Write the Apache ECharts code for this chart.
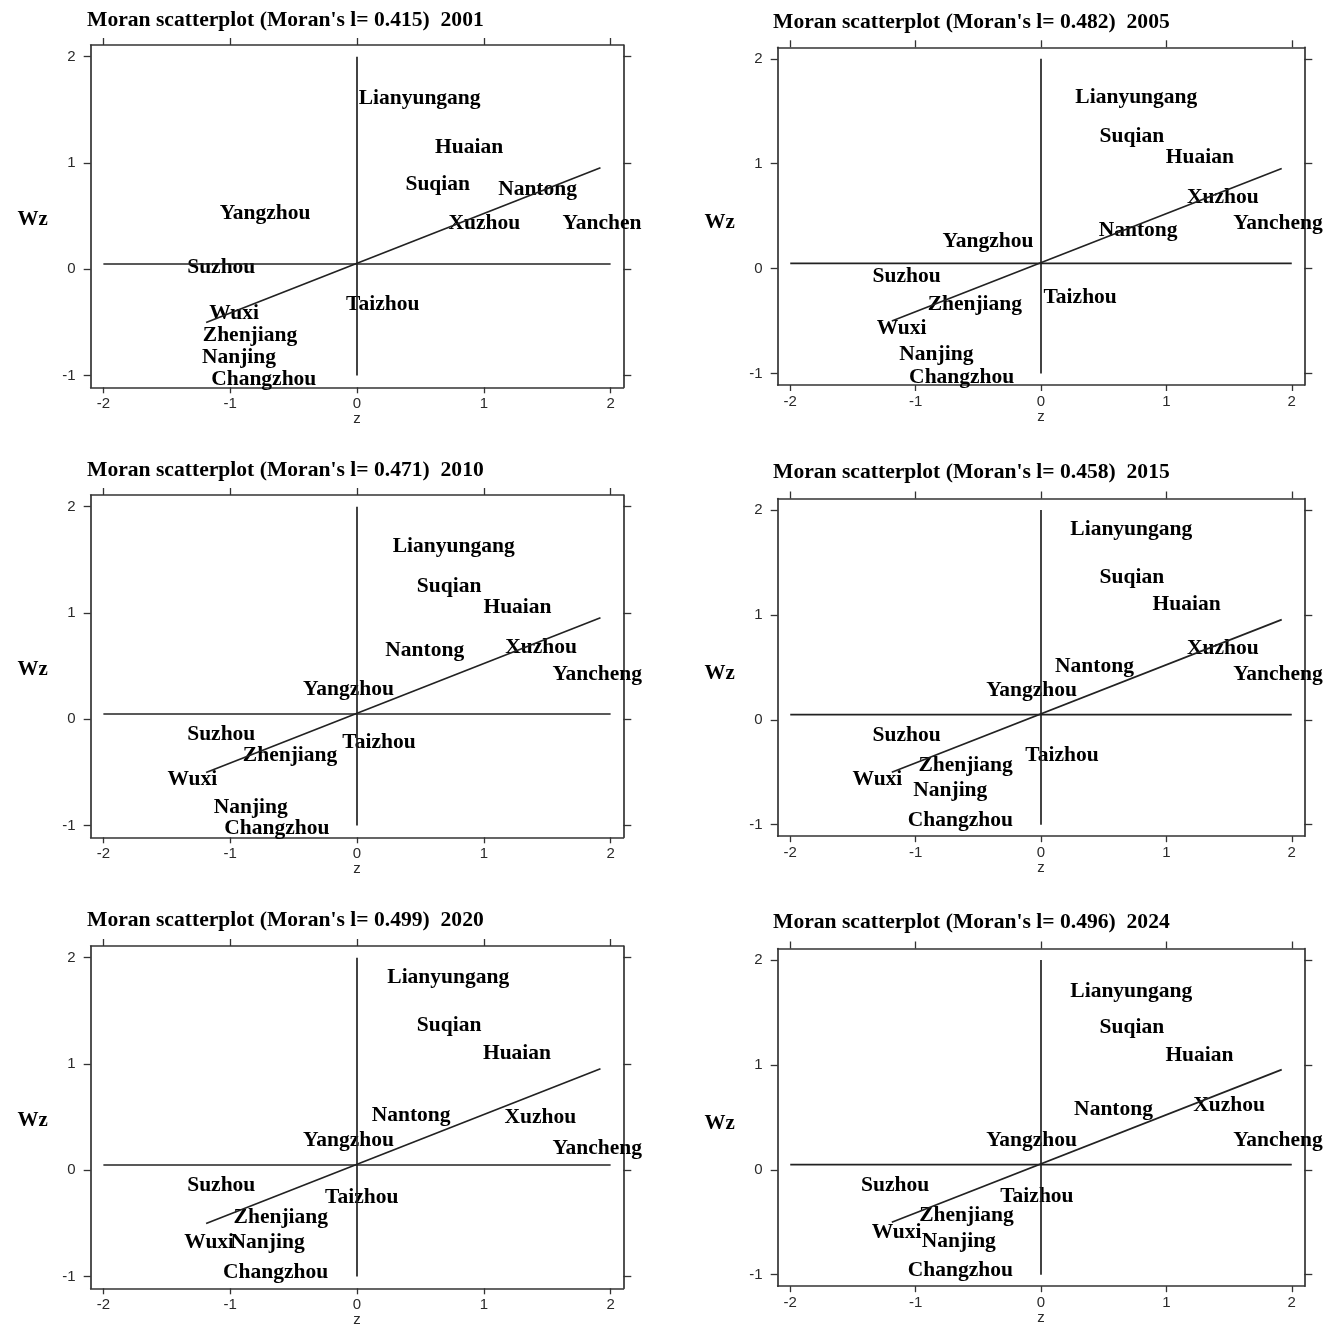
<!DOCTYPE html>
<html>
<head>
<meta charset="utf-8">
<script src="https://cdn.jsdelivr.net/npm/echarts@6/dist/echarts.min.js"></script>
<style>
html,body{margin:0;padding:0;background:#fff;}
#chart{width:1325px;height:1331px;}
</style>
</head>
<body>
<div id="chart"></div>
<script>
// ---- data ----
var cities = ["Lianyungang","Huaian","Suqian","Nantong","Yangzhou","Xuzhou","Yancheng","Suzhou","Taizhou","Wuxi","Zhenjiang","Nanjing","Changzhou"];
var cities2001 = ["Lianyungang","Huaian","Suqian","Nantong","Yangzhou","Xuzhou","Yanchen","Suzhou","Taizhou","Wuxi","Zhenjiang","Nanjing","Changzhou"];

var years = ["2001","2005","2010","2015","2020","2024"];
var moranI = ["0.415","0.482","0.471","0.458","0.499","0.496"];

var z2001  = [0.013, 0.615, 0.382, 1.113, -1.083, 0.721, 1.621, -1.339, -0.086, -1.166, -1.216, -1.223, -1.150];
var wz2001 = [1.630, 1.164, 0.813, 0.766, 0.540, 0.446, 0.446, 0.038, -0.311, -0.395, -0.599, -0.810, -1.013];

var z2005  = [0.274, 0.995, 0.467, 0.460, -0.785, 1.164, 1.533, -1.343, 0.020, -1.310, -0.904, -1.130, -1.052];
var wz2005 = [1.652, 1.077, 1.277, 0.378, 0.276, 0.696, 0.445, -0.057, -0.257, -0.550, -0.327, -0.800, -1.017];

var z2010  = [0.282, 0.997, 0.472, 0.223, -0.425, 1.169, 1.541, -1.339, -0.116, -1.495, -0.900, -1.130, -1.047];
var wz2010 = [1.646, 1.075, 1.270, 0.665, 0.298, 0.699, 0.439, -0.125, -0.197, -0.549, -0.323, -0.806, -1.009];

var z2015  = [0.234, 0.890, 0.467, 0.112, -0.437, 1.164, 1.533, -1.343, -0.125, -1.503, -0.978, -1.019, -1.063];
var wz2015 = [1.835, 1.121, 1.381, 0.527, 0.295, 0.702, 0.448, -0.127, -0.324, -0.546, -0.419, -0.657, -0.937];

var z2020  = [0.239, 0.993, 0.472, 0.116, -0.425, 1.163, 1.541, -1.339, -0.252, -1.362, -0.973, -0.997, -1.056];
var wz2020 = [1.834, 1.122, 1.379, 0.539, 0.298, 0.517, 0.226, -0.125, -0.235, -0.658, -0.423, -0.658, -0.940];

var z2024  = [0.234, 0.992, 0.467, 0.264, -0.437, 1.215, 1.533, -1.435, -0.325, -1.350, -0.971, -0.951, -1.063];
var wz2024 = [1.724, 1.114, 1.375, 0.590, 0.295, 0.629, 0.295, -0.133, -0.235, -0.578, -0.419, -0.667, -0.937];

// fitted line, horizontal mean line and vertical zero line
var fitLineZ  = [-1.19, 1.92];
var fitLineWz = [-0.50, 0.955];
var meanLineZ  = [-2, 2];
var meanLineWz = [0.05, 0.05];
var zeroLineZ  = [0, 0];
var zeroLineWz = [-1, 2];

var xTicks = [-2, -1, 0, 1, 2];
var yTicks = [-1, 0, 1, 2];

// ---- layout ----
var panels = [
  {left: 90.7,  top: 45,    width: 532.6, height: 342.3},
  {left: 777.7, top: 47.3,  width: 526.6, height: 337.7},
  {left: 90.7,  top: 495,   width: 532.6, height: 342.3},
  {left: 777.7, top: 498.5, width: 526.6, height: 337.7},
  {left: 90.7,  top: 946,   width: 532.6, height: 342.3},
  {left: 777.7, top: 948.5, width: 526.6, height: 337.7}
];
var titlePos = [[87, 9], [773, 11], [87, 459], [773, 461], [87, 909], [773, 911]];

var zData = [z2001, z2005, z2010, z2015, z2020, z2024];
var wzData = [wz2001, wz2005, wz2010, wz2015, wz2020, wz2024];
var nameData = [cities2001, cities, cities, cities, cities, cities];

function pairs(xs, ys) { return xs.map(function (x, i) { return [x, ys[i]]; }); }

var axisColor = '#333';
var grids = [], xAxes = [], yAxes = [], series = [], titles = [], graphics = [];

panels.forEach(function (p, i) {
  grids.push({left: p.left, top: p.top, width: p.width, height: p.height, containLabel: false, show: false});
  var xBase = {
    type: 'value', gridIndex: i, min: -2.1, max: 2.1,
    splitLine: {show: false},
    axisLine: {show: true, onZero: false, lineStyle: {color: axisColor, width: 1.7}}
  };
  xAxes.push(Object.assign({}, xBase, {
    position: 'bottom',
    axisTick: {show: true, inside: false, length: 6, customValues: xTicks, lineStyle: {color: axisColor, width: 1.3}},
    axisLabel: {show: true, customValues: xTicks, margin: 9, fontFamily: 'Liberation Sans', fontSize: 15, color: '#2a2a2a'}
  }));
  xAxes.push(Object.assign({}, xBase, {
    position: 'top',
    axisTick: {show: true, inside: false, length: 7, customValues: xTicks, lineStyle: {color: axisColor, width: 1.3}},
    axisLabel: {show: false}
  }));
  var yBase = {
    type: 'value', gridIndex: i, min: -1.11, max: 2.11,
    splitLine: {show: false},
    axisLine: {show: true, onZero: false, lineStyle: {color: axisColor, width: 1.7}}
  };
  yAxes.push(Object.assign({}, yBase, {
    position: 'left',
    axisTick: {show: true, inside: false, length: 7, customValues: yTicks, lineStyle: {color: axisColor, width: 1.3}},
    axisLabel: {show: true, customValues: yTicks, margin: 15, fontFamily: 'Liberation Sans', fontSize: 15, color: '#2a2a2a'}
  }));
  yAxes.push(Object.assign({}, yBase, {
    position: 'right',
    axisTick: {show: true, inside: false, length: 8, customValues: yTicks, lineStyle: {color: axisColor, width: 1.3}},
    axisLabel: {show: false}
  }));

  var xi = i * 2, yi = i * 2;
  var lineStyle = {color: '#222', width: 1.7};
  series.push({type: 'line', xAxisIndex: xi, yAxisIndex: yi, data: pairs(zeroLineZ, zeroLineWz), symbol: 'none', lineStyle: lineStyle, silent: true, animation: false});
  series.push({type: 'line', xAxisIndex: xi, yAxisIndex: yi, data: pairs(meanLineZ, meanLineWz), symbol: 'none', lineStyle: lineStyle, silent: true, animation: false});
  series.push({type: 'line', xAxisIndex: xi, yAxisIndex: yi, data: pairs(fitLineZ, fitLineWz), symbol: 'none', lineStyle: lineStyle, silent: true, animation: false});
  series.push({
    type: 'scatter', xAxisIndex: xi, yAxisIndex: yi, animation: false,
    symbolSize: 0,
    itemStyle: {opacity: 1},
    data: zData[i].map(function (z, k) { return {name: nameData[i][k], value: [z, wzData[i][k]]}; }),
    label: {
      show: true, position: 'right', distance: 0, offset: [0, 2],
      formatter: function (d) { return d.name; },
      fontFamily: 'Liberation Serif', fontWeight: 'bold', fontSize: 21.5, color: '#000', opacity: 1
    }
  });

  titles.push({
    text: "Moran scatterplot (Moran's l= " + moranI[i] + ")  " + years[i],
    left: titlePos[i][0], top: titlePos[i][1], padding: 0,
    textStyle: {fontFamily: 'Liberation Serif', fontWeight: 'bold', fontSize: 21.6, color: '#000'}
  });

  graphics.push({
    type: 'text', x: p.left - 58, y: p.top + 175,
    style: {text: 'Wz', align: 'center', verticalAlign: 'middle', font: 'bold 21px "Liberation Serif"', fill: '#000'}
  });
  graphics.push({
    type: 'text', x: p.left + p.width * 0.5, y: p.top + p.height + 32,
    style: {text: 'z', align: 'center', verticalAlign: 'middle', font: '15px "Liberation Sans"', fill: '#2a2a2a'}
  });
});

var chart = echarts.init(document.getElementById('chart'), null, {renderer: 'canvas'});
chart.setOption({
  backgroundColor: '#fff',
  animation: false,
  title: titles,
  grid: grids,
  xAxis: xAxes,
  yAxis: yAxes,
  series: series,
  graphic: graphics
});
</script>
</body>
</html>
